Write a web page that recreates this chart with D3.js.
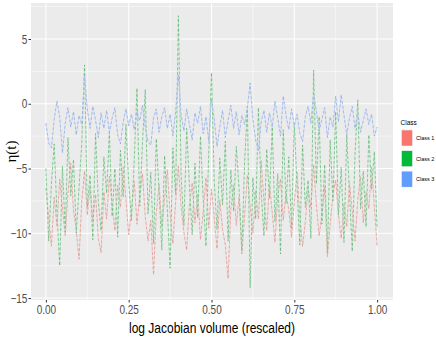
<!DOCTYPE html>
<html>
<head>
<meta charset="utf-8">
<script src="https://cdn.jsdelivr.net/npm/d3@7"></script>
<style>
  body { margin: 0; background: #fff; }
  text { font-family: "Liberation Sans Narrow", "Liberation Sans", Arial, sans-serif; }
</style>
</head>
<body>
<svg id="chart" width="436" height="339"></svg>
<script>
// series values (121 points each, x = i/120)
const classes = ["Class 1", "Class 2", "Class 3"];
const colors = ["#F8766D", "#00BA38", "#619CFF"];

const class1 = [-6.5,-8.8,-11.0,-7.2,-9.4,-5.8,-8.1,-10.2,-6.9,-4.6,-8.3,-9.7,-12.0,-7.5,-5.2,-8.6,-6.4,-9.1,-7.0,-10.4,
  -11.5,-6.8,-8.9,-5.6,-7.7,-9.8,-6.3,-8.0,-4.9,-7.4,-10.1,-8.2,-6.0,-9.3,-7.1,-5.4,-8.7,-10.6,-9.0,-13.2,
  -8.4,-6.2,-9.5,-7.3,-5.1,-8.5,-10.8,-7.6,-4.8,-8.0,-9.9,-11.3,-7.8,-6.1,-9.2,-7.0,-10.5,-8.3,-5.7,-9.6,
  -6.6,-8.8,-11.2,-7.4,-9.7,-10.9,-13.5,-8.1,-6.3,-9.4,-7.2,-11.6,-8.6,-5.5,-7.9,-10.0,-6.7,-8.9,-4.4,-7.5,
  -9.8,-6.2,-8.4,-10.7,-7.1,-5.8,-9.0,-6.9,-8.2,-10.3,-7.6,-5.3,-8.7,-11.0,-9.1,-6.5,-8.0,-4.7,-7.8,-10.2,
  -8.5,-6.4,-11.8,-9.3,-7.0,-5.9,-8.6,-10.4,-7.7,-9.5,-6.1,-8.3,-10.6,-7.4,-5.6,-9.2,-6.8,-8.1,-4.9,-7.9,-11.0];

const class2 = [-5.0,-10.6,-6.2,-3.1,-8.4,-12.5,-4.8,-9.9,-2.6,-7.1,-4.3,-10.0,-6.5,-3.0,3.0,-8.0,-5.5,-10.5,-2.3,-7.6,
  -9.8,-4.1,-6.9,-2.2,-8.7,-5.0,-10.3,-3.6,-7.2,-1.6,-6.1,-9.0,-4.4,1.2,-7.9,-3.0,1.1,-8.5,-5.3,-10.8,
  -2.7,-6.7,-11.3,-4.0,-8.2,-12.7,-3.4,-7.0,6.8,-5.6,-9.4,-1.9,-6.3,-10.1,-4.6,-8.8,-2.5,-7.4,-11.0,-3.8,
  2.4,-6.0,-9.7,-4.2,-7.8,-2.9,-10.6,-5.1,-8.3,-3.3,-6.6,-11.4,-4.5,-0.2,-14.2,-5.7,-8.9,-0.3,-6.8,-10.2,
  -3.5,-7.3,-1.8,-9.1,-5.4,-11.6,-2.0,-7.7,-4.1,-9.6,-1.5,-6.4,-10.9,-3.2,-8.0,-5.9,-10.4,2.6,-6.2,-1.0,
  -9.3,-4.7,-11.5,-2.8,-7.5,-0.6,-8.6,-4.9,-10.7,-2.4,-6.9,-11.4,-3.9,0.3,-8.1,-5.2,-9.5,-2.4,-6.6,-3.7,-9.6];

const class3 = [-1.5,-3.0,-3.4,-1.2,0.2,-1.0,-3.8,-1.5,-0.3,-1.8,-0.6,-2.4,-0.9,-1.6,2.2,-0.4,-1.9,-0.2,-1.3,-2.6,
  -0.7,-1.9,-0.5,-2.2,-1.1,-0.3,-2.4,-3.1,-1.4,-0.4,-1.7,-0.8,-2.0,-0.6,-1.3,-0.1,-1.8,-2.9,-3.2,-1.1,
  -0.4,-2.2,-1.0,-0.3,-1.9,-0.8,-2.5,-0.6,2.2,-0.9,-2.1,-0.4,-1.6,-2.8,-0.7,-1.5,-0.2,-2.3,-1.0,-2.9,
  0.4,-1.2,-3.3,-1.8,-0.5,-2.6,-1.3,-0.1,-1.9,-0.6,-2.4,-0.9,-1.6,-0.3,1.6,-1.2,-2.8,-3.6,-1.4,-0.5,
  -2.2,-0.7,-1.8,0.2,-1.1,-2.5,0.6,-0.9,-2.0,-0.4,-1.7,-0.8,-2.3,-2.9,-1.0,-0.2,-1.5,0.8,-0.6,-2.1,
  -1.2,-0.3,-2.6,-1.0,-1.8,0.6,-1.4,0.7,-0.9,-2.4,-1.1,-0.2,-1.9,-0.7,-2.2,-1.3,-0.4,-1.6,-0.8,-2.5,-1.8];

const xTicks = [0, 0.25, 0.5, 0.75, 1];
const xTickLabels = ["0.00", "0.25", "0.50", "0.75", "1.00"];
const yTicks = [-15, -10, -5, 0, 5];
const xMinor = [0.125, 0.375, 0.625, 0.875];
const yMinor = [-12.5, -7.5, -2.5, 2.5, 7.5];

const svg = d3.select("#chart");
const panel = { left: 31, right: 393, top: 3, bottom: 300 };

const x = d3.scaleLinear().domain([-0.045, 1.048]).range([panel.left, panel.right]);
const y = d3.scaleLinear().domain([-15.15, 7.78]).range([panel.bottom, panel.top]);

svg.append("rect").attr("width", 436).attr("height", 339).attr("fill", "#fff");

// panel background
svg.append("rect")
  .attr("x", panel.left).attr("y", panel.top)
  .attr("width", panel.right - panel.left)
  .attr("height", panel.bottom - panel.top)
  .attr("fill", "#EBEBEB");

// grid lines
const grid = svg.append("g");
grid.selectAll(".xminor").data(xMinor).enter().append("line")
  .attr("x1", d => x(d)).attr("x2", d => x(d))
  .attr("y1", panel.top).attr("y2", panel.bottom)
  .attr("stroke", "#fff").attr("stroke-width", 0.5);
grid.selectAll(".yminor").data(yMinor).enter().append("line")
  .attr("y1", d => y(d)).attr("y2", d => y(d))
  .attr("x1", panel.left).attr("x2", panel.right)
  .attr("stroke", "#fff").attr("stroke-width", 0.5);
grid.selectAll(".xmajor").data(xTicks).enter().append("line")
  .attr("x1", d => x(d)).attr("x2", d => x(d))
  .attr("y1", panel.top).attr("y2", panel.bottom)
  .attr("stroke", "#fff").attr("stroke-width", 1);
grid.selectAll(".ymajor").data(yTicks).enter().append("line")
  .attr("y1", d => y(d)).attr("y2", d => y(d))
  .attr("x1", panel.left).attr("x2", panel.right)
  .attr("stroke", "#fff").attr("stroke-width", 1);

// lines
const series = [class1, class2, class3];
const line = d3.line()
  .x((d, i) => x(i / 120))
  .y(d => y(d));

const pale = ["#F3D3D0", "#CDEFD5", "#D6E0F4"];
const dark = ["#D68F89", "#55AA68", "#7FA0E0"];

series.forEach((s, k) => {
  svg.append("path")
    .datum(s)
    .attr("d", line)
    .attr("fill", "none")
    .attr("stroke", pale[k])
    .attr("stroke-width", 0.8);
  svg.append("path")
    .datum(s)
    .attr("d", line)
    .attr("fill", "none")
    .attr("stroke", dark[k])
    .attr("stroke-width", 0.6)
    .attr("stroke-dasharray", "3,1.8");
});

// axes
const xAxis = svg.append("g")
  .attr("transform", `translate(0, ${panel.bottom})`)
  .call(d3.axisBottom(x).tickValues(xTicks).tickFormat((d, i) => xTickLabels[i]).tickSize(2.5).tickPadding(3));
xAxis.select(".domain").remove();
xAxis.selectAll("line").attr("stroke", "#333");
xAxis.selectAll("text")
  .attr("fill", "#4D4D4D")
  .style("font-size", "12.5px")
  .attr("transform", "scale(0.8,1)");

const yAxis = svg.append("g")
  .attr("transform", `translate(${panel.left}, 0)`)
  .call(d3.axisLeft(y).tickValues(yTicks).tickSize(2.5).tickPadding(2));
yAxis.select(".domain").remove();
yAxis.selectAll("line").attr("stroke", "#333");
yAxis.selectAll("text")
  .attr("fill", "#4D4D4D")
  .style("font-size", "12.5px")
  .attr("transform", "scale(0.8,1)");

// axis titles
svg.append("text")
  .attr("x", 0).attr("y", 0)
  .attr("transform", `translate(${(panel.left + panel.right) / 2}, 333) scale(0.8,1)`)
  .attr("text-anchor", "middle")
  .style("font-size", "15px")
  .attr("fill", "#000")
  .text("log Jacobian volume (rescaled)");

svg.append("text")
  .attr("transform", `translate(16, ${(panel.top + panel.bottom) / 2}) rotate(-90)`)
  .attr("text-anchor", "middle")
  .style("font-size", "15px")
  .style("font-family", "'Liberation Serif', serif")
  .attr("fill", "#000")
  .text("η(t)");

// legend
const legend = svg.append("g");
legend.append("text")
  .attr("x", 400.5).attr("y", 125)
  .style("font-size", "6.5px")
  .attr("fill", "#000")
  .text("Class");

const keys = legend.selectAll(".key").data(classes).enter().append("g")
  .attr("transform", (d, i) => `translate(401, ${129.5 + i * 20.6})`);
keys.append("rect")
  .attr("width", 12).attr("height", 17)
  .attr("fill", "#F2F2F2");
keys.append("rect")
  .attr("x", 0.8).attr("y", 0.8)
  .attr("width", 10.4).attr("height", 15.4)
  .attr("fill", (d, i) => colors[i]);
keys.append("text")
  .attr("x", 15).attr("y", 10.5)
  .style("font-size", "5.5px")
  .attr("fill", "#000")
  .text(d => d);
</script>
</body>
</html>
